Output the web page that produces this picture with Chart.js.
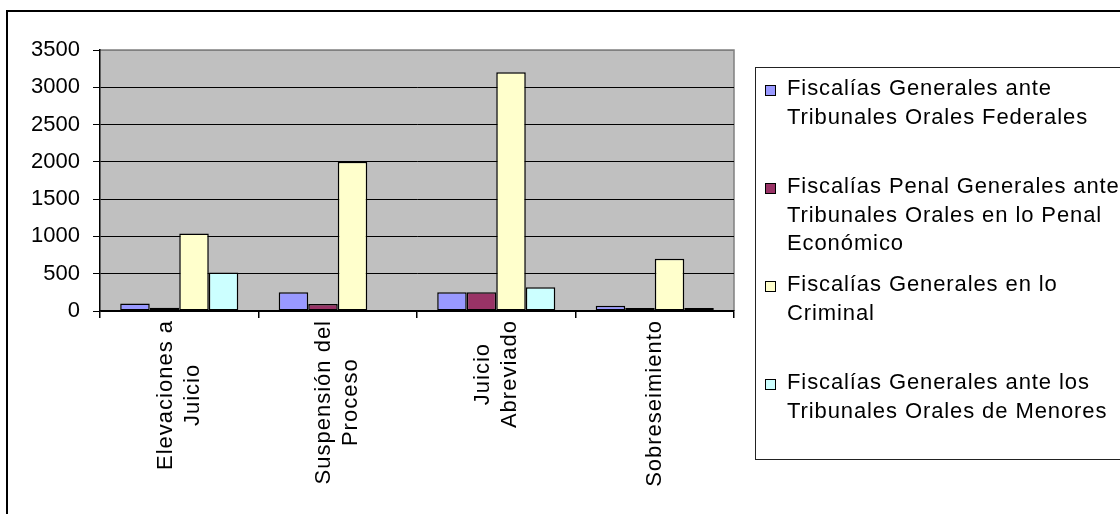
<!DOCTYPE html>
<html>
<head>
<meta charset="utf-8">
<script src="https://cdn.jsdelivr.net/npm/chart.js@4/dist/chart.umd.min.js"></script>
<style>
  html, body { margin: 0; padding: 0; background: #fff; }
  body { width: 1120px; height: 514px; position: relative; overflow: hidden; font-family: "Liberation Sans", Arial, sans-serif; }
  #frame { position: absolute; left: 6px; top: 10px; width: 1140px; height: 540px; border: 2px solid #000; box-sizing: border-box; }
  #chart { position: absolute; left: 0; top: 0; }
  #legend { position: absolute; left: 755px; top: 67px; width: 400px; height: 393px; border: 1px solid #222; box-sizing: border-box; padding-top: 6px; }
  .item { position: relative; height: 98px; padding-left: 31px; font-size: 22px; line-height: 28.5px; letter-spacing: 0.9px; color: #000; white-space: nowrap; }
  .swatch { position: absolute; left: 9px; top: 11px; width: 11px; height: 11px; border: 1px solid #000; box-sizing: border-box; }
</style>
</head>
<body>
<div id="frame"></div>
<canvas id="chart" width="1120" height="514"></canvas>
<div id="legend"></div>
<script>
// Categories (x axis), each split into the lines shown under the axis
const categories = [
    ['Elevaciones a', 'Juicio'],
    ['Suspensión del', 'Proceso'],
    ['Juicio', 'Abreviado'],
    ['Sobreseimiento']
];

// Series names, one entry per legend line
const seriesNames = [
    ['Fiscalías Generales ante', 'Tribunales Orales Federales'],
    ['Fiscalías Penal Generales ante', 'Tribunales Orales en lo Penal', 'Económico'],
    ['Fiscalías Generales en lo', 'Criminal'],
    ['Fiscalías Generales ante los', 'Tribunales Orales de Menores']
];
const seriesColors = ['#9999FF', '#993366', '#FFFFCC', '#CCFFFF'];

// Values per series, in category order
const federales = [100, 250, 250, 70];
const penalEconomico = [45, 95, 250, 40];
const criminal = [1040, 2000, 3200, 700];
const menores = [515, 0, 320, 40];
const seriesValues = [federales, penalEconomico, criminal, menores];

// y axis
const yMin = 0;
const yMax = 3500;
const yStep = 500;

const FONT = '"Liberation Sans", Arial, sans-serif';

// gray plot background with its top/right border
const plotBackground = {
    id: 'plotBackground',
    beforeDraw(chart) {
        const { ctx, chartArea: a } = chart;
        ctx.save();
        ctx.fillStyle = '#C0C0C0';
        ctx.fillRect(a.left, a.top, a.right - a.left, a.bottom - a.top);
        ctx.strokeStyle = '#808080';
        ctx.lineWidth = 1.5;
        ctx.beginPath();
        ctx.moveTo(a.left, a.top);
        ctx.lineTo(a.right, a.top);
        ctx.lineTo(a.right, a.bottom);
        ctx.stroke();
        ctx.restore();
    }
};

// rotated category labels, lines centred on each other
const categoryLabels = {
    id: 'categoryLabels',
    afterDraw(chart) {
        const { ctx } = chart;
        const xs = chart.scales.x;
        const lineH = 27;
        ctx.save();
        ctx.font = '22px ' + FONT;
        ctx.fillStyle = '#000';
        ctx.textAlign = 'center';
        ctx.textBaseline = 'middle';
        if ('letterSpacing' in ctx) ctx.letterSpacing = '1px';
        categories.forEach((lines, i) => {
            const x = xs.getPixelForValue(i);
            const maxW = Math.max(...lines.map(l => ctx.measureText(l).width));
            const yc = xs.top + 9 + maxW / 2;
            ctx.save();
            ctx.translate(x, yc);
            ctx.rotate(-Math.PI / 2);
            lines.forEach((l, j) => {
                ctx.fillText(l, 0, (j - (lines.length - 1) / 2) * lineH);
            });
            ctx.restore();
        });
        ctx.restore();
    }
};

const ctx = document.getElementById('chart');
new Chart(ctx, {
    type: 'bar',
    data: {
        labels: categories.map(c => c.join(' ')),
        datasets: seriesValues.map((vals, i) => ({
            label: seriesNames[i].join(' '),
            data: vals,
            backgroundColor: seriesColors[i],
            borderColor: '#000',
            // no outline for empty bars
            borderWidth: c => (c.raw ? 1.5 : 0),
            borderSkipped: false,
            categoryPercentage: 0.745,
            barPercentage: 1.0
        }))
    },
    options: {
        responsive: false,
        animation: false,
        devicePixelRatio: 1,
        layout: { padding: { top: 50, right: 386, left: 0, bottom: 0 } },
        scales: {
            y: {
                min: yMin,
                max: yMax,
                ticks: {
                    stepSize: yStep,
                    color: '#000',
                    padding: 13,
                    font: { family: FONT, size: 22 },
                    callback: v => String(v)
                },
                grid: {
                    color: c => (c.tick && c.tick.value === yMax) ? '#808080' : '#000',
                    tickColor: '#000',
                    tickLength: 7,
                    lineWidth: 1
                },
                border: { color: '#000', width: 1.5 },
                afterFit: s => { s.width = 100; }
            },
            x: {
                ticks: { display: false },
                grid: { offset: true, drawOnChartArea: false, tickColor: '#000', tickLength: 7, lineWidth: 1.5 },
                border: { color: '#000', width: 1.5 },
                afterFit: s => { s.height = 514 - 311; }
            }
        },
        plugins: {
            legend: { display: false },
            tooltip: { enabled: false }
        }
    },
    plugins: [plotBackground, categoryLabels]
});

// legend box on the right
const legendEl = document.getElementById('legend');
legendEl.innerHTML = seriesNames.map((lines, i) => `
    <div class="item">
      <span class="swatch" style="background:${seriesColors[i]}"></span>
      ${lines.join('<br>')}
    </div>`).join('');
</script>
</body>
</html>
